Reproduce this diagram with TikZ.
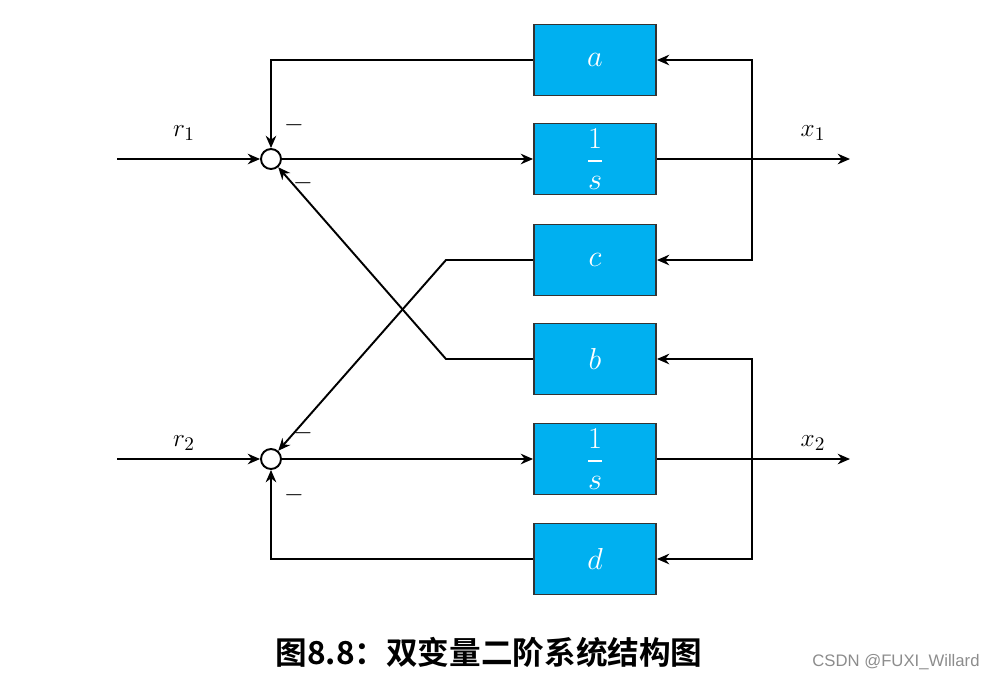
\documentclass[tikz,border=0pt]{standalone}
\usepackage{amsmath}
\usepackage{fontspec}
\usetikzlibrary{arrows.meta}
\newfontfamily\cjkbold{Noto Sans CJK SC Bold}
\newfontfamily\markfont{Liberation Sans}
\definecolor{boxblue}{RGB}{0,176,240}

\begin{document}
\begin{tikzpicture}[
    x=0.02cm, y=-0.02cm,
    blk/.style={draw=black!80, fill=boxblue, text=white, minimum width=2.44cm,
                minimum height=1.42cm, inner sep=0pt, font=\fontsize{16}{18}\selectfont},
    sum/.style={circle, draw, fill=white, minimum size=0.4cm, inner sep=0pt},
    sig/.style={font=\fontsize{15}{17}\selectfont},
    wire/.style={line width=1.1pt},
    arr/.style={wire, -{Stealth[length=7pt, width=6pt]}},
    line width=1.1pt
]
  \useasboundingbox (0,0) rectangle (991,681);

  % --- BLOCKS ---
  \node[blk] (a)  at (595,60)  {$a$};
  \node[blk] (i1) at (595,159) {$\dfrac{1}{s}$};
  \node[blk] (c)  at (595,260) {$c$};
  \node[blk] (b)  at (595,359) {$b$};
  \node[blk] (i2) at (595,459) {$\dfrac{1}{s}$};
  \node[blk] (d)  at (595,559) {$d$};

  % --- SUMMING JUNCTIONS ---
  \node[sum] (s1) at (271,159) {};
  \node[sum] (s2) at (271,459) {};

  % --- INPUTS, OUTPUTS, CORNERS ---
  \coordinate (r1) at (117,159);
  \coordinate (r2) at (117,459);
  \coordinate (y1) at (850,159);
  \coordinate (y2) at (850,459);
  \coordinate (t1) at (752,159);
  \coordinate (t2) at (752,459);
  \coordinate (ka) at (271,60);
  \coordinate (kd) at (271,559);
  \coordinate (kc) at (446,260);
  \coordinate (kb) at (446,359);

  % --- LABELS ---
  \node[sig] (lr1) at (184,133) {$r_1$};
  \node[sig] (lr2) at (184,443) {$r_2$};
  \node[sig] (lx1) at (813,133) {$x_1$};
  \node[sig] (lx2) at (813,443) {$x_2$};
  \node[sig] (m1) at (294,125) {$-$};
  \node[sig] (m2) at (303,183) {$-$};
  \node[sig] (m3) at (303,433) {$-$};
  \node[sig] (m4) at (294,495) {$-$};

  % --- FORWARD PATHS ---
  \draw[arr] (r1) -- (s1);
  \draw[arr] (s1) -- (i1);
  \draw[arr] (i1) -- (y1);
  \draw[arr] (r2) -- (s2);
  \draw[arr] (s2) -- (i2);
  \draw[arr] (i2) -- (y2);

  % --- FEEDBACK PATHS ---
  \draw[arr] (t1) |- (a);
  \draw[arr] (t1) |- (c);
  \draw[arr] (t2) |- (b);
  \draw[arr] (t2) |- (d);
  \draw[arr] (a) -- (ka) -- (s1);
  \draw[arr] (d) -- (kd) -- (s2);
  \draw[arr] (c) -- (kc) -- (s2);
  \draw[arr] (b) -- (kb) -- (s1);

  % --- CAPTION ---
  \node[font=\cjkbold\fontsize{18}{20}\selectfont] (cap) at (489,652) {图8.8：双变量二阶系统结构图};
  \node[font=\markfont\fontsize{9.5}{11}\selectfont, text=black!45] (wm) at (896,662) {CSDN @FUXI\_Willard};

\end{tikzpicture}
\end{document}
